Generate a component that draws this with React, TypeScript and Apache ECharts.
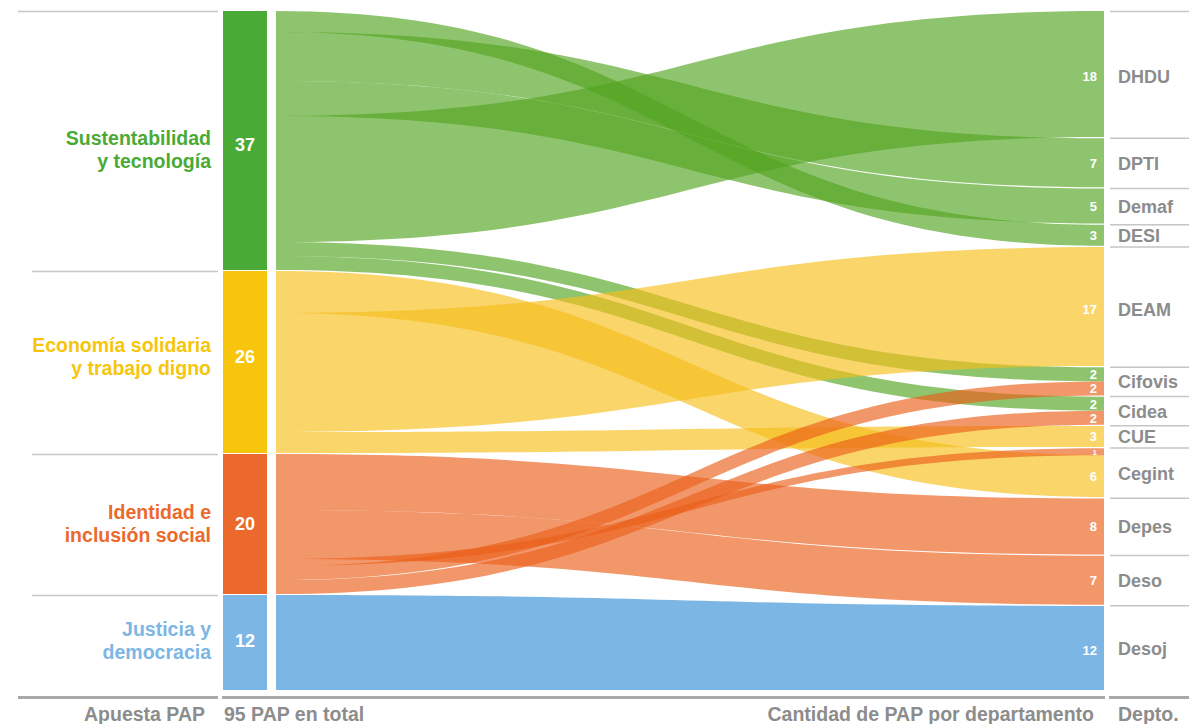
import React, { useEffect, useRef } from "react";
import * as echarts from "echarts";

// ---------- data ----------
const sourceNames = [
  "Sustentabilidad\ny tecnología",
  "Economía solidaria\ny trabajo digno",
  "Identidad e\ninclusión social",
  "Justicia y\ndemocracia",
];
const targetNames = [
  "DHDU", "DPTI", "Demaf", "DESI", "DEAM", "Cifovis",
  "Cidea", "CUE", "Cegint", "Depes", "Deso", "Desoj",
];
// links, listed in the order they leave each source (top to bottom)
const linkSource = [0, 0, 0, 0, 0, 0, 1, 1, 1, 2, 2, 2, 2, 2, 3];
const linkTarget = [3, 1, 2, 0, 5, 6, 8, 4, 7, 9, 10, 8, 5, 6, 11];
const linkValue = [3, 7, 5, 18, 2, 2, 6, 17, 3, 8, 7, 1, 2, 2, 12];
// order in which the links arrive on the right side (top to bottom)
const arrivalOrder = [3, 1, 2, 0, 7, 4, 12, 5, 13, 8, 11, 6, 9, 10, 14];
const axisTitles = ["Apuesta PAP", "PAP en total", "Cantidad de PAP por departamento", "Depto."];

// ---------- styles ----------
const nodeColors = ["#4aaa36", "#f6c50c", "#ec692c", "#7cb6e4"];
const flowColors = [
  "rgba(83,164,32,0.65)",
  "rgba(246,190,26,0.65)",
  "rgba(235,95,26,0.65)",
  "rgba(52,143,213,0.65)",
];
// vertical nudges (px) of the left labels and numbers, as in the original layout
const sourceLabelNudge = [9, -6, -1, -2];
const sourceValueNudge = [4.5, -5.5, -0.5, -2];
const FONT = "'Liberation Sans', Arial, Helvetica, sans-serif";
const GRAY = "#8c8c8c";
const GAP_RIGHT = 0.18;
const GAP_LEFT = 0.14;

function computeLayout() {
  const nT = targetNames.length;
  const rightTop: number[] = new Array(linkValue.length).fill(0);
  const targetStart: number[] = new Array(nT).fill(0);
  const targetEnd: number[] = new Array(nT).fill(0);
  let y = 0;
  let prevT = -1;
  arrivalOrder.forEach((li) => {
    const t = linkTarget[li];
    if (t !== prevT) {
      if (prevT >= 0) {
        targetEnd[prevT] = y;
        y += GAP_RIGHT;
      }
      targetStart[t] = y;
      prevT = t;
    }
    rightTop[li] = y;
    y += linkValue[li];
  });
  targetEnd[prevT] = y;
  const total = y;

  const leftTop: number[] = [];
  const leftH: number[] = [];
  const sourceStart: number[] = [];
  const sourceEnd: number[] = [];
  const sourceTotal: number[] = sourceNames.map(() => 0);
  let ly = 0;
  let prevS = -1;
  linkSource.forEach((s, li) => {
    if (s !== prevS) {
      if (prevS >= 0) {
        sourceEnd[prevS] = ly;
        ly += GAP_LEFT;
      }
      sourceStart[s] = ly;
      prevS = s;
    }
    leftTop[li] = ly;
    leftH[li] = linkValue[li];
    sourceTotal[s] += linkValue[li];
    ly += linkValue[li];
  });
  sourceEnd[prevS] = ly;
  // the last source bar fills the column down to the common baseline
  const last = prevS;
  const k = (total - sourceStart[last]) / (sourceEnd[last] - sourceStart[last]);
  linkSource.forEach((s, li) => {
    if (s === last) {
      leftTop[li] = sourceStart[last] + (leftTop[li] - sourceStart[last]) * k;
      leftH[li] *= k;
    }
  });
  sourceEnd[last] = total;
  return { rightTop, targetStart, targetEnd, total, leftTop, leftH, sourceStart, sourceEnd, sourceTotal };
}

export default function App() {
  const ref = useRef<HTMLDivElement>(null);
  useEffect(() => {
    document.body.style.margin = "0";
    const chart = echarts.init(ref.current!, null, { renderer: "svg" });
    const L = computeLayout();
    const grandTotal = linkValue.reduce((a, b) => a + b, 0);

    const linkSeries = {
      type: "custom",
      coordinateSystem: "cartesian2d",
      clip: false,
      silent: true,
      data: linkValue.map((v, i) => [i, v]),
      renderItem: (params: any, api: any) => {
        const i = params.dataIndex;
        const a0 = api.coord([0, L.leftTop[i]]);
        const a1 = api.coord([0, L.leftTop[i] + L.leftH[i]]);
        const b0 = api.coord([1, L.rightTop[i]]);
        const b1 = api.coord([1, L.rightTop[i] + linkValue[i]]);
        const x0 = a0[0];
        const x1 = b0[0];
        const xm = (x0 + x1) / 2;
        const d =
          `M${x0},${a0[1]} C${xm},${a0[1]} ${xm},${b0[1]} ${x1},${b0[1]} ` +
          `L${x1},${b1[1]} C${xm},${b1[1]} ${xm},${a1[1]} ${x0},${a1[1]} Z`;
        const h = b1[1] - b0[1];
        return {
          type: "group",
          children: [
            { type: "path", shape: { pathData: d }, style: { fill: flowColors[linkSource[i]] } },
            {
              type: "text",
              z2: 10,
              style: {
                text: String(linkValue[i]),
                x: x1 - 7,
                y: (b0[1] + b1[1]) / 2 + (h > 60 ? 2.5 : 0.5),
                fill: "#ffffff",
                fontSize: Math.min(13, h + 1),
                fontWeight: "bold",
                fontFamily: FONT,
                align: "right",
                verticalAlign: "middle",
              },
            },
          ],
        };
      },
    };

    const sourceSeries = {
      type: "custom",
      coordinateSystem: "cartesian2d",
      clip: false,
      silent: true,
      data: sourceNames.map((n, i) => [i, L.sourceTotal[i]]),
      renderItem: (params: any, api: any) => {
        const s = params.dataIndex;
        const p0 = api.coord([0, L.sourceStart[s]]);
        const p1 = api.coord([0, L.sourceEnd[s]]);
        const x0 = p0[0];
        const top = Math.round(p0[1]);
        const bot = Math.round(p1[1]);
        const mid = (p0[1] + p1[1]) / 2;
        return {
          type: "group",
          children: [
            { type: "rect", shape: { x: x0 - 53, y: top, width: 44, height: bot - top }, style: { fill: nodeColors[s] } },
            {
              type: "text",
              style: {
                text: String(L.sourceTotal[s]),
                x: x0 - 31,
                y: mid + sourceValueNudge[s],
                fill: "#ffffff",
                fontSize: 18,
                fontWeight: "bold",
                fontFamily: FONT,
                align: "center",
                verticalAlign: "middle",
              },
            },
            {
              type: "text",
              style: {
                text: sourceNames[s],
                x: x0 - 65,
                y: mid + sourceLabelNudge[s],
                fill: nodeColors[s],
                fontSize: 19.5,
                fontWeight: "bold",
                fontFamily: FONT,
                lineHeight: 23,
                align: "right",
                verticalAlign: "middle",
              },
            },
            {
              type: "line",
              shape: { x1: s === 0 ? 18 : x0 - 244, y1: top + 0.5, x2: x0 - 58, y2: top + 0.5 },
              style: { stroke: "#c6c6c6", lineWidth: 1.5 },
            },
          ],
        };
      },
    };

    const targetSeries = {
      type: "custom",
      coordinateSystem: "cartesian2d",
      clip: false,
      silent: true,
      data: targetNames.map((n, i) => [i, L.targetEnd[i] - L.targetStart[i]]),
      renderItem: (params: any, api: any) => {
        const t = params.dataIndex;
        const sepY = t === 0 ? L.targetStart[t] : L.targetStart[t] - GAP_RIGHT / 2;
        const ps = api.coord([1, sepY]);
        const p0 = api.coord([1, L.targetStart[t]]);
        const p1 = api.coord([1, L.targetEnd[t]]);
        const x1 = p0[0];
        const h = p1[1] - p0[1];
        return {
          type: "group",
          children: [
            {
              type: "line",
              shape: { x1: x1 + 6, y1: ps[1] + 0.5, x2: 1189, y2: ps[1] + 0.5 },
              style: { stroke: "#c6c6c6", lineWidth: 1.5 },
            },
            {
              type: "text",
              style: {
                text: targetNames[t],
                x: x1 + 14,
                y: (p0[1] + p1[1]) / 2 + (h > 100 ? 3 : 1),
                fill: GRAY,
                fontSize: 18,
                fontWeight: "bold",
                fontFamily: FONT,
                align: "left",
                verticalAlign: "middle",
              },
            },
          ],
        };
      },
    };

    const frameSeries = {
      type: "custom",
      coordinateSystem: "cartesian2d",
      clip: false,
      silent: true,
      data: [[0, 0]],
      renderItem: (params: any, api: any) => {
        const a = api.coord([0, L.total]);
        const b = api.coord([1, L.total]);
        const x0 = a[0];
        const x1 = b[0];
        const ly = a[1] + 7.5;
        const ty = ly + 16;
        const seg = (xa: number, xb: number) => ({
          type: "line",
          shape: { x1: xa, y1: ly, x2: xb, y2: ly },
          style: { stroke: "#a8a8a8", lineWidth: 3 },
        });
        const txt = (text: string, x: number, align: string) => ({
          type: "text",
          style: {
            text,
            x,
            y: ty,
            fill: GRAY,
            fontSize: 19.5,
            fontWeight: "bold",
            fontFamily: FONT,
            align,
            verticalAlign: "middle",
          },
        });
        return {
          type: "group",
          children: [
            seg(18, x0 - 58),
            seg(x0 - 54, x1 + 1),
            seg(x1 + 5, 1189),
            txt(axisTitles[0], x0 - 71, "right"),
            txt(`${grandTotal} ${axisTitles[1]}`, x0 - 52, "left"),
            txt(axisTitles[2], x1 - 10, "right"),
            txt(axisTitles[3], x1 + 14, "left"),
          ],
        };
      },
    };

    chart.setOption({
      animation: false,
      backgroundColor: "#ffffff",
      grid: { left: 276, right: 85, top: 11, bottom: 34 },
      xAxis: { type: "value", min: 0, max: 1, show: false },
      yAxis: { type: "value", min: 0, max: L.total, inverse: true, show: false },
      series: [linkSeries, sourceSeries, targetSeries, frameSeries],
    });
    return () => chart.dispose();
  }, []);
  return <div ref={ref} style={{ width: 1189, height: 724, overflow: "hidden" }} />;
}
